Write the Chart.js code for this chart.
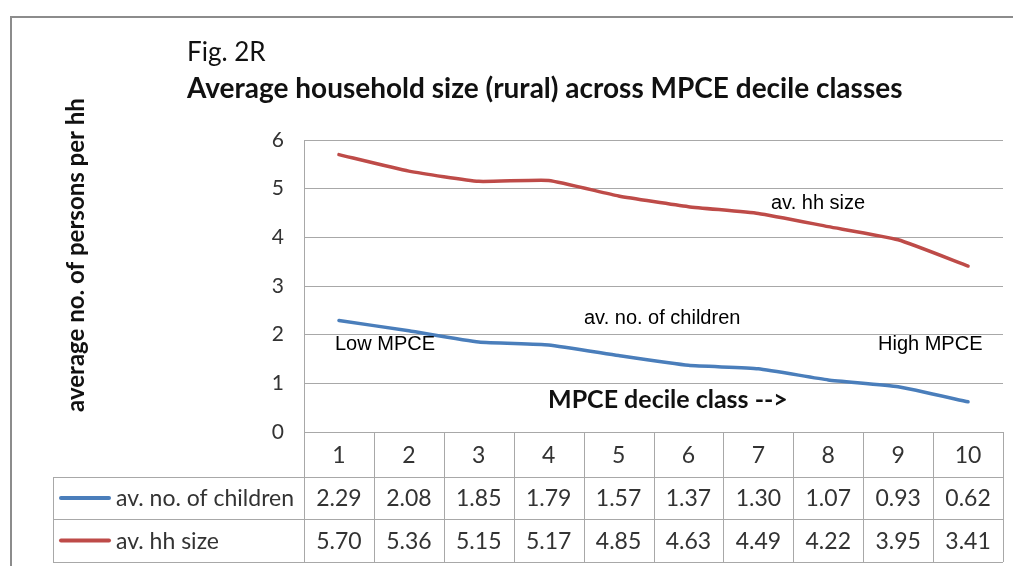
<!DOCTYPE html>
<html>
<head>
<meta charset="utf-8">
<script src="https://cdn.jsdelivr.net/npm/chart.js@4.4.1/dist/chart.umd.min.js"></script>
<style>
  html, body { margin: 0; background: #fff; }
  #wrap { width: 1013px; height: 566px; position: relative; }
</style>
</head>
<body>
<div id="wrap"><canvas id="c"></canvas></div>
<script>
const deciles = ['1', '2', '3', '4', '5', '6', '7', '8', '9', '10'];
const children = [2.29, 2.08, 1.85, 1.79, 1.57, 1.37, 1.30, 1.07, 0.93, 0.62];
const hhSize = [5.70, 5.36, 5.15, 5.17, 4.85, 4.63, 4.49, 4.22, 3.95, 3.41];
const seriesNames = ['av. no. of children', 'av. hh size'];
const seriesColors = ['#4A7EBB', '#BE4B48'];
const yMin = 0, yMax = 6, yStep = 1;

const CAL = 'Lato, "Open Sans", sans-serif';
const ARIAL = '"Liberation Sans", Arial, sans-serif';
const gridColor = '#a8a8a8';

// plugin que dibuja títulos, marco, anotaciones y la tabla de datos
const extras = {
  id: 'extras',
  afterDraw(chart) {
    const ctx = chart.ctx;
    const a = chart.chartArea;
    const xs = chart.scales.x;
    ctx.save();

    // marco exterior
    ctx.strokeStyle = '#8c8c8c';
    ctx.lineWidth = 2;
    ctx.beginPath();
    ctx.moveTo(11, 566);
    ctx.lineTo(11, 17);
    ctx.lineTo(1013, 17);
    ctx.stroke();

    // títulos
    ctx.fillStyle = '#111';
    ctx.textBaseline = 'alphabetic';
    ctx.textAlign = 'left';
    ctx.font = '26px ' + CAL;
    ctx.fillText('Fig. 2R', 187, 61);
    ctx.font = 'bold 28px ' + CAL;
    ctx.fillText('Average household size (rural) across MPCE decile classes', 187, 98);

    // título del eje y
    ctx.save();
    ctx.translate(84, 255);
    ctx.rotate(-Math.PI / 2);
    ctx.textAlign = 'center';
    ctx.font = 'bold 24px ' + CAL;
    ctx.fillText('average no. of persons per hh', 0, 0);
    ctx.restore();

    // anotaciones dentro del área
    ctx.font = '20px ' + ARIAL;
    ctx.fillStyle = '#000';
    ctx.textBaseline = 'middle';
    ctx.fillText('av. hh size', 771, 203);
    ctx.fillText('av. no. of children', 584, 318);
    ctx.fillText('Low MPCE', 335, 344);
    ctx.fillText('High MPCE', 878, 344);
    ctx.font = 'bold 25px ' + CAL;
    ctx.fillStyle = '#111';
    ctx.fillText('MPCE decile class -->', 548, 400);

    // tabla de datos
    const colW = (a.right - a.left) / deciles.length;
    const top = a.bottom, r1 = top + 45, r2 = r1 + 42, r3 = r2 + 43;
    const labelLeft = 53;
    ctx.strokeStyle = gridColor;
    ctx.lineWidth = 1;
    ctx.beginPath();
    [r1, r2, r3].forEach(y => {
      ctx.moveTo(labelLeft, y + 0.5);
      ctx.lineTo(a.right, y + 0.5);
    });
    ctx.moveTo(labelLeft + 0.5, r1);
    ctx.lineTo(labelLeft + 0.5, r3);
    for (let i = 0; i <= deciles.length; i++) {
      const x = Math.round(a.left + i * colW) + 0.5;
      ctx.moveTo(x, top);
      ctx.lineTo(x, r3);
    }
    ctx.stroke();

    ctx.textAlign = 'center';
    ctx.textBaseline = 'middle';
    ctx.fillStyle = '#333';
    ctx.font = '23px ' + CAL;
    deciles.forEach((d, i) => {
      const cx = xs.getPixelForValue(i);
      ctx.fillText(d, cx, (top + r1) / 2 + 1);
      ctx.fillText(children[i].toFixed(2), cx, (r1 + r2) / 2 + 1);
      ctx.fillText(hhSize[i].toFixed(2), cx, (r2 + r3) / 2 + 1);
    });

    // claves de la leyenda en la tabla
    [[r1, r2], [r2, r3]].forEach(([y0, y1], k) => {
      const cy = (y0 + y1) / 2;
      ctx.strokeStyle = seriesColors[k];
      ctx.lineWidth = 4;
      ctx.lineCap = 'round';
      ctx.beginPath();
      ctx.moveTo(61, cy);
      ctx.lineTo(109, cy);
      ctx.stroke();
      ctx.textAlign = 'left';
      ctx.fillStyle = '#333';
      ctx.fillText(seriesNames[k], 116, cy + 1);
    });

    ctx.restore();
  }
};

new Chart(document.getElementById('c'), {
  type: 'line',
  data: {
    labels: deciles,
    datasets: [
      { label: seriesNames[0], data: children, borderColor: seriesColors[0] },
      { label: seriesNames[1], data: hhSize, borderColor: seriesColors[1] }
    ]
  },
  options: {
    responsive: true,
    maintainAspectRatio: false,
    devicePixelRatio: 1,
    animation: false,
    layout: { padding: { left: 244, top: 140, right: 10, bottom: 134 } },
    elements: {
      line: { borderWidth: 3.5, tension: 0.15, borderCapStyle: 'round' },
      point: { radius: 0 }
    },
    plugins: { legend: { display: false }, tooltip: { enabled: false } },
    scales: {
      x: { display: false, offset: true },
      y: {
        min: yMin, max: yMax,
        ticks: { stepSize: yStep, color: '#333', font: { family: CAL, size: 21 }, padding: 20 },
        grid: { color: gridColor, drawTicks: false },
        border: { color: gridColor },
        afterFit(s) { s.width = 60; }
      }
    }
  },
  plugins: [extras]
});
</script>
</body>
</html>
